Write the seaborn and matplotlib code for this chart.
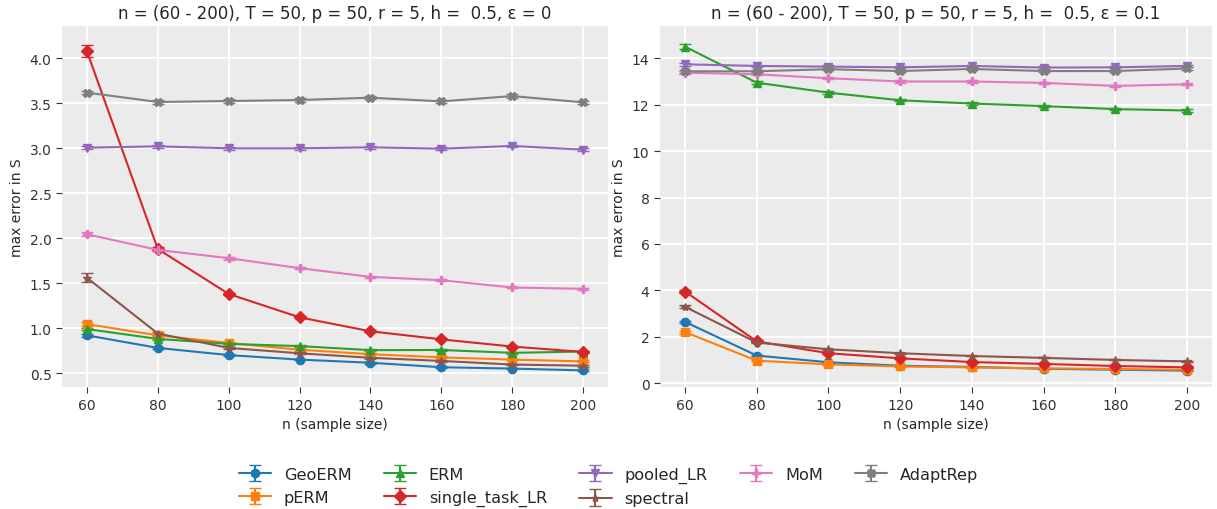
import numpy as np
import matplotlib
matplotlib.use("Agg")
import matplotlib.pyplot as plt
import seaborn as sns

# data
n_values = [60, 80, 100, 120, 140, 160, 180, 200]
methods = ["GeoERM", "pERM", "ERM", "single_task_LR", "pooled_LR", "spectral", "MoM", "AdaptRep"]
markers = ["o", "s", "^", "D", "v", "*", "P", "X"]

# eps = 0
mean_eps0 = {
    "GeoERM": [0.92, 0.78, 0.70, 0.65, 0.615, 0.565, 0.55, 0.53],
    "pERM": [1.045, 0.92, 0.835, 0.76, 0.71, 0.675, 0.65, 0.63],
    "ERM": [0.99, 0.88, 0.825, 0.80, 0.755, 0.757, 0.725, 0.74],
    "single_task_LR": [4.08, 1.88, 1.38, 1.12, 0.965, 0.875, 0.795, 0.735],
    "pooled_LR": [3.007, 3.022, 3.0, 3.0, 3.011, 2.996, 3.026, 2.985],
    "spectral": [1.56, 0.94, 0.78, 0.72, 0.67, 0.635, 0.595, 0.582],
    "MoM": [2.044, 1.87, 1.778, 1.667, 1.57, 1.533, 1.452, 1.437],
    "AdaptRep": [3.62, 3.515, 3.526, 3.537, 3.563, 3.522, 3.581, 3.511],
}
err_eps0 = {
    "GeoERM": [0.015, 0.01, 0.01, 0.01, 0.01, 0.01, 0.01, 0.01],
    "pERM": [0.02, 0.01, 0.01, 0.01, 0.01, 0.01, 0.01, 0.01],
    "ERM": [0.015, 0.01, 0.01, 0.01, 0.01, 0.01, 0.01, 0.01],
    "single_task_LR": [0.07, 0.02, 0.015, 0.01, 0.01, 0.01, 0.01, 0.01],
    "pooled_LR": [0.015, 0.015, 0.015, 0.015, 0.015, 0.015, 0.015, 0.015],
    "spectral": [0.05, 0.015, 0.01, 0.01, 0.01, 0.01, 0.01, 0.01],
    "MoM": [0.02, 0.015, 0.015, 0.01, 0.01, 0.01, 0.01, 0.01],
    "AdaptRep": [0.02, 0.02, 0.02, 0.02, 0.02, 0.02, 0.02, 0.02],
}

# eps = 0.1
mean_eps01 = {
    "GeoERM": [2.64, 1.19, 0.90, 0.75, 0.70, 0.62, 0.58, 0.54],
    "pERM": [2.20, 0.97, 0.81, 0.72, 0.68, 0.64, 0.61, 0.58],
    "ERM": [14.50, 12.95, 12.52, 12.19, 12.05, 11.94, 11.81, 11.75],
    "single_task_LR": [3.95, 1.80, 1.29, 1.07, 0.91, 0.83, 0.74, 0.68],
    "pooled_LR": [13.74, 13.67, 13.64, 13.61, 13.67, 13.60, 13.61, 13.67],
    "spectral": [3.29, 1.75, 1.46, 1.29, 1.17, 1.09, 1.00, 0.94],
    "MoM": [13.38, 13.31, 13.14, 13.0, 13.0, 12.94, 12.81, 12.88],
    "AdaptRep": [13.44, 13.44, 13.53, 13.45, 13.54, 13.45, 13.45, 13.56],
}
err_eps01 = {
    "GeoERM": [0.06, 0.03, 0.02, 0.02, 0.02, 0.02, 0.02, 0.02],
    "pERM": [0.06, 0.03, 0.02, 0.02, 0.02, 0.02, 0.02, 0.02],
    "ERM": [0.12, 0.06, 0.05, 0.05, 0.05, 0.05, 0.05, 0.05],
    "single_task_LR": [0.08, 0.04, 0.03, 0.02, 0.02, 0.02, 0.02, 0.02],
    "pooled_LR": [0.06, 0.05, 0.05, 0.05, 0.05, 0.05, 0.05, 0.05],
    "spectral": [0.06, 0.03, 0.02, 0.02, 0.02, 0.02, 0.02, 0.02],
    "MoM": [0.06, 0.05, 0.05, 0.05, 0.05, 0.05, 0.05, 0.05],
    "AdaptRep": [0.06, 0.05, 0.05, 0.05, 0.05, 0.05, 0.05, 0.05],
}

titles = [
    "n = (60 - 200), T = 50, p = 50, r = 5, h =  0.5, \u03b5 = 0",
    "n = (60 - 200), T = 50, p = 50, r = 5, h =  0.5, \u03b5 = 0.1",
]

sns.set_style("darkgrid", {
    "axes.facecolor": "#EBEBEB",
    "grid.color": "white",
    "xtick.bottom": True,
    "ytick.left": True,
})
plt.rcParams["font.family"] = ["DejaVu Sans"]
plt.rcParams["grid.linewidth"] = 1.3
plt.rcParams["xtick.major.size"] = 4
plt.rcParams["ytick.major.size"] = 4
plt.rcParams["xtick.color"] = "#333333"
plt.rcParams["ytick.color"] = "#333333"
colors = sns.color_palette("tab10", 8)

fig = plt.figure(figsize=(12.17, 5.1), dpi=100)
ax1 = fig.add_axes([0.051, 0.239, 0.4486, 0.708])
ax2 = fig.add_axes([0.5423, 0.239, 0.4536, 0.708])

handles = []
for ax, means, errs, title in [(ax1, mean_eps0, err_eps0, titles[0]),
                               (ax2, mean_eps01, err_eps01, titles[1])]:
    for i, m in enumerate(methods):
        h = ax.errorbar(n_values, means[m], yerr=errs[m], color=colors[i],
                        marker=markers[i], markersize=6, linewidth=1.5,
                        capsize=4, label=m)
        if ax is ax1:
            handles.append(h)
    ax.set_title(title, fontsize=12)
    ax.set_xlabel("n (sample size)", fontsize=10)
    ax.set_ylabel("max error in S", fontsize=10)
    ax.set_xticks(n_values)
    ax.tick_params(labelsize=10)
    for s in ax.spines.values():
        s.set_visible(False)

ax1.set_yticks(np.arange(0.5, 4.01, 0.5))
ax1.set_ylim(0.344, 4.36)
ax2.set_yticks(np.arange(0, 15, 2))
ax2.set_ylim(-0.17, 15.39)

fig.legend(handles, methods, loc="upper center", bbox_to_anchor=(0.5, 0.111),
           ncol=5, frameon=False, fontsize=11.6)

fig.savefig("out.png", dpi=100)
